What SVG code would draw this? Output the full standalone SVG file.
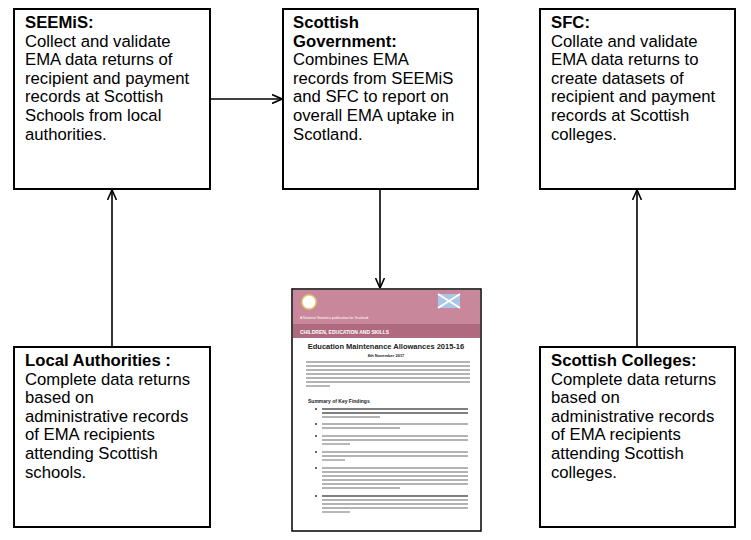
<svg xmlns="http://www.w3.org/2000/svg" width="751" height="540" viewBox="0 0 751 540">
<style>
.box{fill:#fff;stroke:#000;stroke-width:2}
.t{font-family:"Liberation Sans",Arial,sans-serif;font-size:16.7px;fill:#000}
.b{font-weight:bold}
.c{stroke:#000;stroke-width:1.6;fill:none}
.dl{stroke:#9a9a9a;stroke-width:1.4}
.dt{font-family:"Liberation Sans",Arial,sans-serif;fill:#222}
.wt{font-family:"Liberation Sans",Arial,sans-serif;fill:#fff}
</style>
<defs>
<marker id="ah" viewBox="0 0 10 10" refX="10" refY="5" markerWidth="10" markerHeight="10" orient="auto-start-reverse" markerUnits="userSpaceOnUse">
<path d="M0,0.5 L10,5 L0,9.5" fill="none" stroke="#000" stroke-width="1.6"/>
</marker>
</defs>
<rect width="751" height="540" fill="#fff"/>
<g id="connectors">
<line class="c" x1="210" y1="99" x2="282" y2="99" marker-end="url(#ah)"/>
<line class="c" x1="112" y1="347" x2="112" y2="190" marker-end="url(#ah)"/>
<line class="c" x1="380" y1="189" x2="380" y2="288" marker-end="url(#ah)"/>
<line class="c" x1="637" y1="347" x2="637" y2="190" marker-end="url(#ah)"/>
</g>
<g id="seemis">
<rect class="box" x="14" y="9" width="196" height="180"/>
<text class="t" x="25" y="28"><tspan class="b">SEEMiS:</tspan><tspan x="25" dy="18.6">Collect and validate</tspan><tspan x="25" dy="18.6">EMA data returns of</tspan><tspan x="25" dy="18.6">recipient and payment</tspan><tspan x="25" dy="18.6">records at Scottish</tspan><tspan x="25" dy="18.6">Schools from local</tspan><tspan x="25" dy="18.6">authorities.</tspan></text>
</g>
<g id="sg">
<rect class="box" x="283" y="9" width="195" height="180"/>
<text class="t" x="293" y="28"><tspan class="b">Scottish</tspan><tspan x="293" dy="18.6" class="b">Government:</tspan><tspan x="293" dy="18.6">Combines EMA</tspan><tspan x="293" dy="18.6">records from SEEMiS</tspan><tspan x="293" dy="18.6">and SFC to report on</tspan><tspan x="293" dy="18.6">overall EMA uptake in</tspan><tspan x="293" dy="18.6">Scotland.</tspan></text>
</g>
<g id="sfc">
<rect class="box" x="540" y="9" width="195" height="180"/>
<text class="t" x="551" y="28"><tspan class="b">SFC:</tspan><tspan x="551" dy="18.6">Collate and validate</tspan><tspan x="551" dy="18.6">EMA data returns to</tspan><tspan x="551" dy="18.6">create datasets of</tspan><tspan x="551" dy="18.6">recipient and payment</tspan><tspan x="551" dy="18.6">records at Scottish</tspan><tspan x="551" dy="18.6">colleges.</tspan></text>
</g>
<g id="la">
<rect class="box" x="14" y="347" width="196" height="180"/>
<text class="t" x="25" y="366"><tspan class="b">Local Authorities :</tspan><tspan x="25" dy="18.6">Complete data returns</tspan><tspan x="25" dy="18.6">based on</tspan><tspan x="25" dy="18.6">administrative records</tspan><tspan x="25" dy="18.6">of EMA recipients</tspan><tspan x="25" dy="18.6">attending Scottish</tspan><tspan x="25" dy="18.6">schools.</tspan></text>
</g>
<g id="sc">
<rect class="box" x="540" y="347" width="195" height="180"/>
<text class="t" x="551" y="366"><tspan class="b">Scottish Colleges:</tspan><tspan x="551" dy="18.6">Complete data returns</tspan><tspan x="551" dy="18.6">based on</tspan><tspan x="551" dy="18.6">administrative records</tspan><tspan x="551" dy="18.6">of EMA recipients</tspan><tspan x="551" dy="18.6">attending Scottish</tspan><tspan x="551" dy="18.6">colleges.</tspan></text>
</g>
<g id="document">
<rect x="292" y="289" width="189" height="242" fill="#fff" stroke="#000" stroke-width="1.5"/>
<rect x="293" y="290" width="187" height="34" fill="#c8879a"/>
<rect x="293" y="324" width="187" height="14" fill="#b06a80"/>
<circle cx="309" cy="302" r="7" fill="#fff" stroke="#e0d070" stroke-width="1.5"/>
<rect x="438" y="294" width="22" height="14" fill="#a9c6e8"/>
<path d="M438,294 L460,308 M460,294 L438,308" stroke="#fff" stroke-width="2"/>
<text class="wt" x="300" y="319" font-size="3.5">A National Statistics publication for Scotland</text>
<text class="wt" x="300" y="334" font-size="5" font-weight="bold">CHILDREN, EDUCATION AND SKILLS</text>
<text class="dt" x="386" y="349" font-size="7.5" font-weight="bold" text-anchor="middle">Education Maintenance Allowances 2015-16</text>
<text class="dt" x="386" y="357" font-size="4" font-weight="bold" text-anchor="middle">8th November 2017</text>
<g class="dl">
<line x1="306" y1="362" x2="470" y2="362"/><line x1="306" y1="366" x2="470" y2="366"/><line x1="306" y1="370" x2="470" y2="370"/><line x1="306" y1="374" x2="470" y2="374"/><line x1="306" y1="378" x2="470" y2="378"/><line x1="306" y1="382" x2="470" y2="382"/><line x1="306" y1="386" x2="330" y2="386"/>
</g>
<text class="dt" x="308" y="403" font-size="5" font-weight="bold">Summary of Key Findings</text>
<g class="dl">
<line x1="322" y1="409" x2="468" y2="409" stroke="#555"/><line x1="322" y1="413" x2="468" y2="413" stroke="#555"/><line x1="322" y1="417" x2="380" y2="417"/>
<line x1="322" y1="424" x2="468" y2="424"/><line x1="322" y1="428" x2="400" y2="428"/>
<line x1="322" y1="436" x2="468" y2="436"/><line x1="322" y1="440" x2="468" y2="440"/><line x1="322" y1="444" x2="350" y2="444"/>
<line x1="322" y1="452" x2="468" y2="452"/><line x1="322" y1="456" x2="468" y2="456"/><line x1="322" y1="460" x2="345" y2="460"/>
<line x1="322" y1="468" x2="468" y2="468"/><line x1="322" y1="472" x2="468" y2="472"/><line x1="322" y1="476" x2="468" y2="476"/><line x1="322" y1="480" x2="468" y2="480"/><line x1="322" y1="484" x2="468" y2="484"/><line x1="322" y1="488" x2="400" y2="488"/>
<line x1="322" y1="496" x2="468" y2="496" stroke="#555"/><line x1="322" y1="500" x2="468" y2="500"/><line x1="322" y1="504" x2="468" y2="504"/><line x1="322" y1="508" x2="468" y2="508"/><line x1="322" y1="512" x2="350" y2="512"/>
</g>
<g fill="#333"><circle cx="316" cy="409" r="1"/><circle cx="316" cy="424" r="1"/><circle cx="316" cy="436" r="1"/><circle cx="316" cy="452" r="1"/><circle cx="316" cy="468" r="1"/><circle cx="316" cy="496" r="1"/></g>
</g>
</svg>
